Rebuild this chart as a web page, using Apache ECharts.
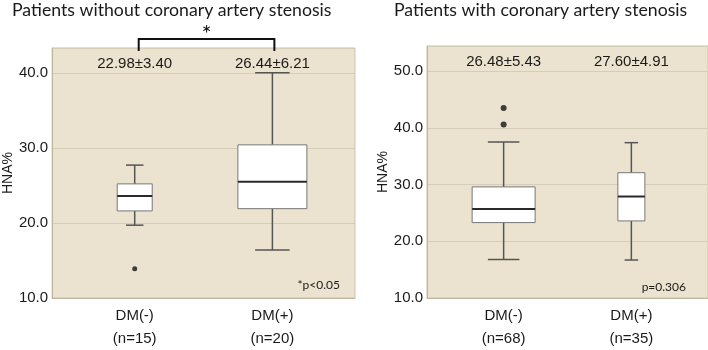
<!DOCTYPE html>
<html>
<head>
<meta charset="utf-8">
<script src="https://cdn.jsdelivr.net/npm/echarts@6/dist/echarts.min.js"></script>
<style>
  html, body { margin: 0; padding: 0; background: #fff; }
  #chart { width: 708px; height: 350px; }
</style>
</head>
<body>
<div id="chart"></div>
<script>
// groups on the x axis
const categories = ['DM(-)', 'DM(+)'];

// left panel: without coronary artery stenosis
// [min, Q1, median, Q3, max] per group
const leftStats = [
  [19.7, 21.6, 23.6, 25.2, 27.7],
  [16.4, 21.9, 25.5, 30.4, 40.0]
];
const leftOutliers = [[0, 13.9]];
const leftMeanSd = ['22.98\u00b13.40', '26.44\u00b16.21'];
const leftCounts = ['(n=15)', '(n=20)'];

// right panel: with coronary artery stenosis
const rightStats = [
  [16.8, 23.3, 25.7, 29.6, 37.5],
  [16.7, 23.6, 27.9, 32.1, 37.4]
];
const rightOutliers = [[0, 40.6], [0, 43.5]];
const rightMeanSd = ['26.48\u00b15.43', '27.60\u00b14.91'];
const rightCounts = ['(n=68)', '(n=35)'];

const leftYRange = [10, 43.3];
const rightYRange = [10, 54.45];

// box widths in px (SPSS draws them by group size)
const leftBoxWidth = [35, 69];
const rightBoxWidth = [63, 27];

const sans = 'Liberation Sans, Arial, sans-serif';
const bgColor = '#ebe3cf';
const gridLine = '#d6cdb6';

function boxRender(widths, meanSd) {
  return function (params, api) {
    const i = api.value(0);
    const x = api.coord([i, 0])[0];
    const yMin = api.coord([i, api.value(1)])[1];
    const yQ1 = api.coord([i, api.value(2)])[1];
    const yMed = api.coord([i, api.value(3)])[1];
    const yQ3 = api.coord([i, api.value(4)])[1];
    const yMax = api.coord([i, api.value(5)])[1];
    const half = widths[i] / 2;
    const cap = widths[i] / 4;
    const whisker = { stroke: '#555', lineWidth: 1.5 };
    return {
      type: 'group',
      children: [
        { type: 'line', shape: { x1: x, y1: yMax, x2: x, y2: yQ3 }, style: whisker },
        { type: 'line', shape: { x1: x, y1: yQ1, x2: x, y2: yMin }, style: whisker },
        { type: 'line', shape: { x1: x - cap, y1: yMax, x2: x + cap, y2: yMax }, style: whisker },
        { type: 'line', shape: { x1: x - cap, y1: yMin, x2: x + cap, y2: yMin }, style: whisker },
        { type: 'rect', shape: { x: x - half, y: yQ3, width: half * 2, height: yQ1 - yQ3 },
          style: { fill: '#fff', stroke: '#777', lineWidth: 1 } },
        { type: 'line', shape: { x1: x - half, y1: yMed, x2: x + half, y2: yMed },
          style: { stroke: '#2a2a2a', lineWidth: 2 } },
        { type: 'text', x: x, y: params.coordSys.y + 16,
          style: { text: meanSd[i], font: '15px ' + sans, fill: '#1a1a1a',
                   align: 'center', verticalAlign: 'middle' } }
      ]
    };
  };
}

function bracketRender(params, api) {
  const x0 = api.coord([api.value(0), 0])[0];
  const x1 = api.coord([api.value(1), 0])[0];
  const top = params.coordSys.y;
  return {
    type: 'group',
    children: [
      { type: 'polyline',
        shape: { points: [[x0 + 4, top + 3], [x0 + 4, top - 9], [x1 + 2, top - 9], [x1 + 2, top + 3]] },
        style: { stroke: '#111', lineWidth: 2, fill: null } },
      { type: 'text', x: (x0 + x1) / 2 + 3, y: top - 14,
        style: { text: '*', font: '24px Lato', fill: '#111', align: 'center', verticalAlign: 'middle' } }
    ]
  };
}

function statsData(stats) {
  return stats.map((s, i) => [i].concat(s));
}

function xAxisFor(gridIndex, counts) {
  return {
    gridIndex: gridIndex,
    type: 'value',
    min: -0.6,
    max: 1.6,
    axisLine: { show: true, onZero: false, lineStyle: { color: '#bdb5a0' } },
    axisTick: { show: false },
    splitLine: { show: false },
    axisLabel: {
      customValues: [0, 1],
      formatter: v => categories[v] + '\n' + counts[v],
      fontFamily: sans,
      fontSize: 15,
      color: '#1a1a1a',
      lineHeight: 23,
      margin: 6
    }
  };
}

function yAxisFor(gridIndex, range) {
  return {
    gridIndex: gridIndex,
    type: 'value',
    min: range[0],
    max: range[1],
    interval: 10,
    name: 'HNA%',
    nameLocation: 'middle',
    nameGap: 34,
    nameTextStyle: { fontFamily: sans, fontSize: 14, color: '#1a1a1a' },
    axisLine: { show: true, onZero: false, lineStyle: { color: '#bdb5a0' } },
    axisTick: { show: false },
    splitLine: { show: true, lineStyle: { color: gridLine } },
    axisLabel: {
      formatter: v => v.toFixed(1),
      showMaxLabel: false,
      fontFamily: sans,
      fontSize: 15,
      color: '#1a1a1a',
      margin: 4
    }
  };
}

const chart = echarts.init(document.getElementById('chart'));
chart.setOption({
  animation: false,
  backgroundColor: '#fff',
  title: [
    { text: 'Patients without coronary artery stenosis', left: 12, top: 1, padding: 0,
      textStyle: { fontFamily: 'Lato', fontSize: 17.7, fontWeight: 'normal', color: '#1a1a1a' } },
    { text: 'Patients with coronary artery stenosis', left: 394, top: 1, padding: 0,
      textStyle: { fontFamily: 'Lato', fontSize: 17.7, fontWeight: 'normal', color: '#1a1a1a' } },
    { text: '*p<0.05', right: 368, top: 279, padding: 0,
      textStyle: { fontFamily: 'Lato', fontSize: 12, fontWeight: 'normal', color: '#1a1a1a' } },
    { text: 'p=0.306', right: 22, top: 281, padding: 0,
      textStyle: { fontFamily: 'Lato', fontSize: 12, fontWeight: 'normal', color: '#1a1a1a' } }
  ],
  grid: [
    { left: 49, right: 353, top: 48, bottom: 51, show: true,
      backgroundColor: bgColor, borderColor: '#cbc3ad', borderWidth: 1 },
    { left: 427, right: 0, top: 46, bottom: 51, show: true,
      backgroundColor: bgColor, borderColor: '#cbc3ad', borderWidth: 1 }
  ],
  xAxis: [xAxisFor(0, leftCounts), xAxisFor(1, rightCounts)],
  yAxis: [yAxisFor(0, leftYRange), yAxisFor(1, rightYRange)],
  series: [
    { type: 'custom', xAxisIndex: 0, yAxisIndex: 0, clip: false,
      renderItem: boxRender(leftBoxWidth, leftMeanSd), data: statsData(leftStats) },
    { type: 'custom', xAxisIndex: 1, yAxisIndex: 1, clip: false,
      renderItem: boxRender(rightBoxWidth, rightMeanSd), data: statsData(rightStats) },
    { type: 'custom', xAxisIndex: 0, yAxisIndex: 0, clip: false,
      renderItem: bracketRender, data: [[0, 1]] },
    { type: 'scatter', xAxisIndex: 0, yAxisIndex: 0, symbolSize: 5,
      itemStyle: { color: '#111' }, data: leftOutliers },
    { type: 'scatter', xAxisIndex: 1, yAxisIndex: 1, symbolSize: 6,
      itemStyle: { color: '#111' }, data: rightOutliers }
  ]
});
</script>
</body>
</html>
